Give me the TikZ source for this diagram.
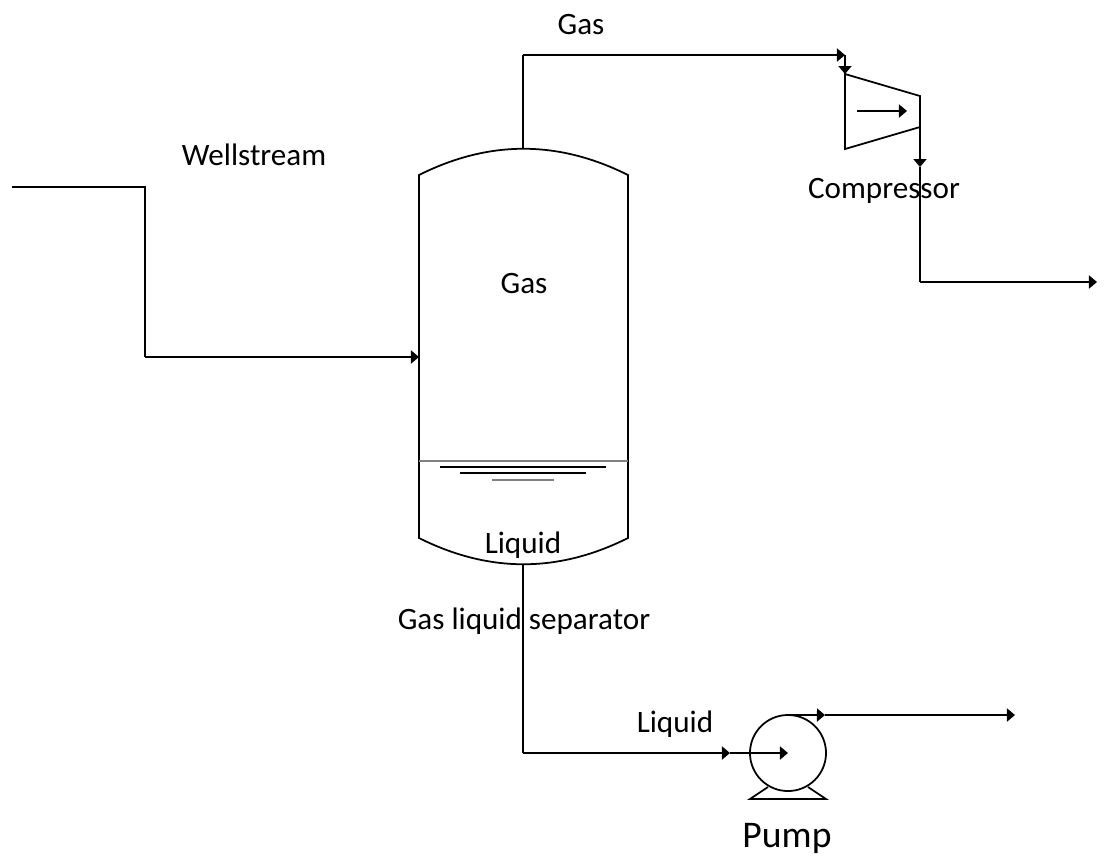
\documentclass[tikz,border=0pt]{standalone}
\usepackage{fontspec}
\setmainfont{Carlito}
\usetikzlibrary{arrows.meta}
\tikzset{
    line/.style={line width=0.5pt, line join=miter},
    flow/.style={line, -{Triangle[length=0.08cm, width=0.13cm]}},
    label/.style={font=\fontsize{8.85pt}{10pt}\selectfont, inner sep=0pt},
}

\begin{document}
\begin{tikzpicture}[x=0.01cm, y=-0.01cm]
    \useasboundingbox (0, 0) rectangle (1111, 856);

    % vessel
    \coordinate (topl) at (419, 175);
    \coordinate (topr) at (628, 175);
    \coordinate (botl) at (419, 538);
    \coordinate (botr) at (628, 538);
    \coordinate (gasout) at (523, 149);
    \coordinate (liqout) at (523, 565);
    \coordinate (feedin) at (419, 357);
    \draw[line]
        (topl) .. controls (489, 140) and (558, 140) .. (topr)
        -- (botr)
        .. controls (558, 573) and (489, 573) .. (botl)
        -- cycle;

    % liquid level
    \coordinate (levell) at (419, 461);
    \coordinate (levelr) at (628, 461);
    \draw[line, gray] (levell) -- (levelr);
    \draw[line]
        (440, 467) -- ++(166, 0)
        (460, 473) -- ++(126, 0);
    \draw[line, gray] (492, 480) -- ++(62, 0);

    % compressor
    \coordinate (compa) at (845, 74);
    \coordinate (compb) at (920, 96);
    \coordinate (compc) at (920, 127);
    \coordinate (compd) at (845, 149);
    \draw[line] (compa) -- (compb) -- (compc) -- (compd) -- cycle;
    \draw[flow] (857, 111) -- ++(50, 0);

    % pump
    \node[draw, line, circle, minimum size=0.76cm, inner sep=0pt, outer sep=0pt] (pump) at (788, 753) {};
    \draw[line]
        (768, 787) -- (750, 799) -- (826, 799) -- (808, 787);

    % wellstream
    \coordinate (feedstart) at (12, 187);
    \coordinate (feeda) at (145, 187);
    \coordinate (feedb) at (145, 357);
    \draw[line] (feedstart) -- (feeda) -- (feedb);
    \draw[flow] (feedb) -- (feedin);

    % gas to compressor
    \coordinate (gasa) at (523, 55);
    \coordinate (gasb) at (845, 55);
    \draw[line] (gasout) -- (gasa);
    \draw[flow] (gasa) -- (gasb);
    \draw[flow] (gasb) -- (compa);

    % compressor outlet
    \coordinate (compout) at (920, 167);
    \coordinate (gasc) at (920, 282);
    \coordinate (gasend) at (1097, 282);
    \draw[flow] (compc) -- (compout);
    \draw[line] (compout) -- (gasc);
    \draw[flow] (gasc) -- (gasend);

    % liquid to pump
    \coordinate (liqa) at (523, 753);
    \coordinate (liqb) at (730, 753);
    \draw[line] (liqout) -- (liqa);
    \draw[flow] (liqa) -- (liqb);
    \draw[flow] (liqb) -- (pump.center);

    % pump outlet
    \coordinate (liqc) at (825, 715);
    \coordinate (liqend) at (1015, 715);
    \draw[flow] (pump.north) -- (liqc);
    \draw[flow] (liqc) -- (liqend);

    % labels
    \node[label] (gastop) at (581, 24) {Gas};
    \node[label] (wellstream) at (254, 155) {Wellstream};
    \node[label] (gasin) at (524, 283) {Gas};
    \node[label] (compressor) at (884, 191) {Compressor};
    \node[label] (liquidin) at (523, 545) {Liquid};
    \node[label] (separator) at (524, 621) {Gas liquid separator};
    \node[label] (liquidline) at (675, 724) {Liquid};
    \node[label, font=\fontsize{10.7pt}{12pt}\selectfont] (pumplabel) at (787, 838) {Pump};
\end{tikzpicture}
\end{document}
